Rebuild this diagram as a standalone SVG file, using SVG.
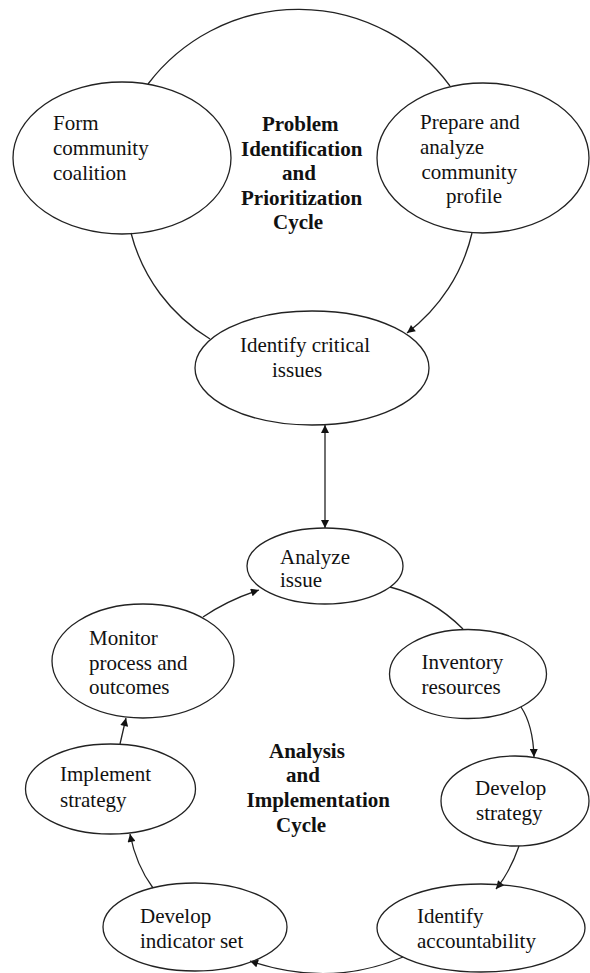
<svg xmlns="http://www.w3.org/2000/svg" width="590" height="973" viewBox="0 0 590 973">
<style>
.n{fill:none;stroke:#222;stroke-width:1.3}
.c{fill:none;stroke:#222;stroke-width:1.3}
text{font-family:"Liberation Serif","Times New Roman",serif;font-size:21px;fill:#111}
.b{font-weight:bold}
</style>
<defs>
<marker id="ah" viewBox="0 0 10 10" refX="10" refY="5" markerWidth="9" markerHeight="8" markerUnits="userSpaceOnUse" orient="auto-start-reverse">
<path d="M0,0 L10,5 L0,10 z" fill="#111"/>
</marker>
</defs>
<rect width="590" height="973" fill="#fff"/>
<g id="connectors">
<path class="c" d="M148,84 A188.5,188.5 0 0 1 450,86"/>
<path class="c" d="M131,233 A175,175 0 0 0 210,339"/>
<path class="c" d="M472,233 A175,175 0 0 1 407,333" marker-end="url(#ah)"/>
<path class="c" d="M325,425 L325,528" marker-start="url(#ah)" marker-end="url(#ah)"/>
<path class="c" d="M390,587 Q432,598 463,629"/>
<path class="c" d="M521,707 Q533,725 534,757" marker-end="url(#ah)"/>
<path class="c" d="M519,846 Q510,872 496,889" marker-end="url(#ah)"/>
<path class="c" d="M403,957 Q330,988 250,961" marker-end="url(#ah)"/>
<path class="c" d="M153,888 Q136,865 130,834" marker-end="url(#ah)"/>
<path class="c" d="M120,744 L126,718" marker-end="url(#ah)"/>
<path class="c" d="M203,617 Q228,600 259,590" marker-end="url(#ah)"/>
</g>
<g id="form-coalition">
<ellipse class="n" cx="122" cy="158" rx="109" ry="76"/>
<text x="53" y="130">Form</text>
<text x="53" y="155">community</text>
<text x="53" y="180">coalition</text>
</g>
<g id="title-problem">
<text class="b" x="262" y="131">Problem</text>
<text class="b" x="241" y="155.5">Identification</text>
<text class="b" x="282" y="180">and</text>
<text class="b" x="241" y="204.5">Prioritization</text>
<text class="b" x="273" y="229">Cycle</text>
</g>
<g id="prepare-profile">
<ellipse class="n" cx="483" cy="158" rx="106" ry="75"/>
<text x="420" y="129">Prepare and</text>
<text x="420" y="154">analyze</text>
<text x="421.5" y="179">community</text>
<text x="446" y="203">profile</text>
</g>
<g id="identify-critical">
<ellipse class="n" cx="312" cy="368" rx="117" ry="57"/>
<text x="240" y="352">Identify critical</text>
<text x="272" y="377">issues</text>
</g>
<g id="analyze-issue">
<ellipse class="n" cx="325" cy="566" rx="78" ry="38"/>
<text x="280" y="564">Analyze</text>
<text x="280" y="587">issue</text>
</g>
<g id="monitor">
<ellipse class="n" cx="143" cy="661" rx="91" ry="57"/>
<text x="89" y="645">Monitor</text>
<text x="89" y="670">process and</text>
<text x="89" y="694">outcomes</text>
</g>
<g id="inventory">
<ellipse class="n" cx="468" cy="674" rx="78.5" ry="44.5"/>
<text x="421.5" y="669">Inventory</text>
<text x="421.5" y="694">resources</text>
</g>
<g id="title-analysis">
<text class="b" x="269" y="758">Analysis</text>
<text class="b" x="286" y="782">and</text>
<text class="b" x="246.5" y="807">Implementation</text>
<text class="b" x="276" y="832">Cycle</text>
</g>
<g id="implement">
<ellipse class="n" cx="110.5" cy="789" rx="85" ry="45"/>
<text x="60" y="781">Implement</text>
<text x="60" y="807">strategy</text>
</g>
<g id="develop-strategy">
<ellipse class="n" cx="515" cy="801" rx="74" ry="45"/>
<text x="475" y="795">Develop</text>
<text x="476" y="820">strategy</text>
</g>
<g id="indicator-set">
<ellipse class="n" cx="195" cy="927" rx="92" ry="44"/>
<text x="140" y="923">Develop</text>
<text x="140" y="948">indicator set</text>
</g>
<g id="accountability">
<ellipse class="n" cx="481" cy="928" rx="104" ry="44"/>
<text x="417" y="923">Identify</text>
<text x="417" y="948">accountability</text>
</g>
</svg>
